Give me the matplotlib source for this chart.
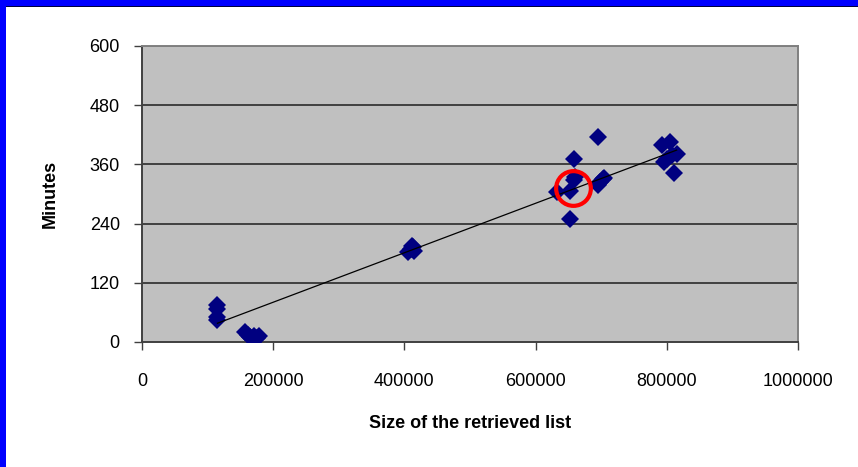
import matplotlib.pyplot as plt
from matplotlib.patches import Rectangle

# retrieval runs: list size vs. time taken
list_size = [115000, 115000, 115000, 115000,
             157000, 162000, 165000, 170000, 175000, 178000,
             405000, 410000, 412000, 415000, 413000,
             632000, 652000, 658000, 658500, 652500, 660000,
             694700, 695000, 698000, 702000, 705000,
             792000, 805000, 795000, 807500, 815000, 811000, 800000]
minutes = [74, 67, 50, 45,
           20, 15, 10, 12, 8, 12,
           182, 188, 195, 185, 192,
           305, 306, 328, 370, 249, 335,
           415, 318, 325, 330, 332,
           399, 406, 365, 379, 382, 342, 370]

# linear trend line end points
trend_size = [115000, 815000]
trend_minutes = [38, 389]

# highlighted run
mark_size = 657500
mark_minutes = 313

x_ticks = [0, 200000, 400000, 600000, 800000, 1000000]
y_ticks = [0, 120, 240, 360, 480, 600]

plt.rcParams['font.family'] = ['Liberation Sans', 'DejaVu Sans']

fig = plt.figure(figsize=(8.58, 4.67), dpi=100)
fig.patch.set_facecolor('white')

# slide frame: blue band on top and left
fig.patches.append(Rectangle((0, 1 - 6 / 467), 1, 6 / 467, transform=fig.transFigure,
                             facecolor='#0000FF', edgecolor='none', zorder=0))
fig.patches.append(Rectangle((0, 1 - 7 / 467), 1, 1 / 467, transform=fig.transFigure,
                             facecolor='#000040', edgecolor='none', zorder=0))
fig.patches.append(Rectangle((0, 0), 6 / 858, 1, transform=fig.transFigure,
                             facecolor='#0000FF', edgecolor='none', zorder=0))

ax = fig.add_axes([142 / 858, 1 - 342 / 467, 656 / 858, 296 / 467])
ax.set_facecolor('#C0C0C0')

for y in y_ticks[1:]:
    ax.axhline(y, color='#404040', lw=1.4, zorder=1)

ax.plot(list_size, minutes, 'D', color='#000080', ms=9, mew=0, zorder=3)
ax.plot(trend_size, trend_minutes, color='black', lw=0.9, zorder=4)
ax.plot([mark_size], [mark_minutes], 'o', ms=25, mfc='none', mec='#FF0000', mew=3, zorder=5)

ax.set_xlim(0, 1000000)
ax.set_ylim(0, 600)
ax.set_xticks(x_ticks)
ax.set_yticks(y_ticks)
ax.set_xticklabels([str(v) for v in x_ticks])
ax.tick_params(axis='both', direction='out', length=6, width=1, color='#404040',
               labelsize=13)
ax.tick_params(axis='x', pad=16)
ax.tick_params(axis='y', pad=10)

for side in ['left', 'bottom']:
    ax.spines[side].set_color('#404040')
    ax.spines[side].set_linewidth(1.4)
for side in ['top', 'right']:
    ax.spines[side].set_color('#808080')
    ax.spines[side].set_linewidth(1.4)

ax.set_xlabel('Size of the retrieved list', fontsize=13, fontweight='bold', labelpad=18)
ax.set_ylabel('Minutes', fontsize=13, fontweight='bold', labelpad=22)

fig.savefig('out.png', dpi=100)
